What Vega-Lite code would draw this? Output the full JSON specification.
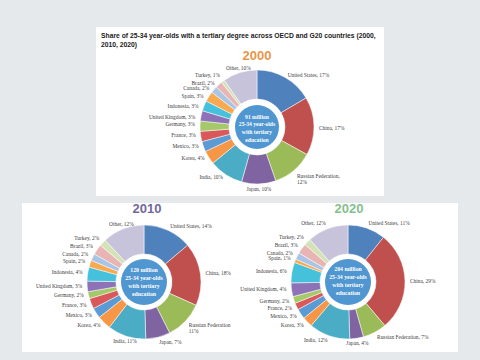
{
  "$schema": "https://vega.github.io/schema/vega-lite/v6.json",
  "background": "#e6e9ec",
  "padding": {"left": 22, "top": 27, "right": 22, "bottom": 8},
  "title": {"text": "2000", "anchor": "middle", "offset": -36, "dx": 17, "font": "Liberation Sans", "fontSize": 13, "fontWeight": "bold", "color": "#e8964a"},
  "datasets": {
    "d2000": [
      {"i": 1, "country": "United States", "value": 17, "label": "United States, 17%"},
      {"i": 2, "country": "China", "value": 17, "label": "China, 17%"},
      {"i": 3, "country": "Russian Federation", "value": 12, "label": "Russian Federation,\n12%"},
      {"i": 4, "country": "Japan", "value": 10, "label": "Japan, 10%"},
      {"i": 5, "country": "India", "value": 10, "label": "India, 10%"},
      {"i": 6, "country": "Korea", "value": 4, "label": "Korea, 4%"},
      {"i": 7, "country": "Mexico", "value": 3, "label": "Mexico, 3%"},
      {"i": 8, "country": "France", "value": 3, "label": "France, 3%"},
      {"i": 9, "country": "Germany", "value": 3, "label": "Germany, 3%"},
      {"i": 10, "country": "United Kingdom", "value": 3, "label": "United Kingdom, 3%"},
      {"i": 11, "country": "Indonesia", "value": 3, "label": "Indonesia, 3%"},
      {"i": 12, "country": "Spain", "value": 3, "label": "Spain, 3%"},
      {"i": 13, "country": "Canada", "value": 2, "label": "Canada, 2%"},
      {"i": 14, "country": "Brazil", "value": 2, "label": "Brazil, 2%"},
      {"i": 15, "country": "Turkey", "value": 1, "label": "Turkey, 1%"},
      {"i": 16, "country": "Other", "value": 10, "label": "Other, 10%"}
    ],
    "d2010": [
      {"i": 1, "country": "United States", "value": 14, "label": "United States, 14%"},
      {"i": 2, "country": "China", "value": 18, "label": "China, 18%"},
      {"i": 3, "country": "Russian Federation", "value": 11, "label": "Russian Federation\n11%"},
      {"i": 4, "country": "Japan", "value": 7, "label": "Japan, 7%"},
      {"i": 5, "country": "India", "value": 11, "label": "India, 11%"},
      {"i": 6, "country": "Korea", "value": 4, "label": "Korea, 4%"},
      {"i": 7, "country": "Mexico", "value": 3, "label": "Mexico, 3%"},
      {"i": 8, "country": "France", "value": 3, "label": "France, 3%"},
      {"i": 9, "country": "Germany", "value": 2, "label": "Germany, 2%"},
      {"i": 10, "country": "United Kingdom", "value": 3, "label": "United Kingdom, 3%"},
      {"i": 11, "country": "Indonesia", "value": 4, "label": "Indonesia, 4%"},
      {"i": 12, "country": "Spain", "value": 2, "label": "Spain, 2%"},
      {"i": 13, "country": "Canada", "value": 2, "label": "Canada, 2%"},
      {"i": 14, "country": "Brazil", "value": 3, "label": "Brazil, 3%"},
      {"i": 15, "country": "Turkey", "value": 2, "label": "Turkey, 2%"},
      {"i": 16, "country": "Other", "value": 12, "label": "Other, 12%"}
    ],
    "d2020": [
      {"i": 1, "country": "United States", "value": 11, "label": "United States, 11%"},
      {"i": 2, "country": "China", "value": 29, "label": "China, 29%"},
      {"i": 3, "country": "Russian Federation", "value": 7, "label": "Russian Federation, 7%"},
      {"i": 4, "country": "Japan", "value": 4, "label": "Japan, 4%"},
      {"i": 5, "country": "India", "value": 12, "label": "India, 12%"},
      {"i": 6, "country": "Korea", "value": 3, "label": "Korea, 3%"},
      {"i": 7, "country": "Mexico", "value": 3, "label": "Mexico, 3%"},
      {"i": 8, "country": "France", "value": 2, "label": "France, 2%"},
      {"i": 9, "country": "Germany", "value": 2, "label": "Germany, 2%"},
      {"i": 10, "country": "United Kingdom", "value": 4, "label": "United Kingdom, 4%"},
      {"i": 11, "country": "Indonesia", "value": 6, "label": "Indonesia, 6%"},
      {"i": 12, "country": "Spain", "value": 1, "label": "Spain, 1%"},
      {"i": 13, "country": "Canada", "value": 2, "label": "Canada, 2%"},
      {"i": 14, "country": "Brazil", "value": 3, "label": "Brazil, 3%"},
      {"i": 15, "country": "Turkey", "value": 2, "label": "Turkey, 2%"},
      {"i": 16, "country": "Other", "value": 12, "label": "Other, 12%"}
    ],
    "centre": [
      {"year": "2000", "text": "91 million\n25-34 year-olds\nwith tertiary\neducation"},
      {"year": "2010", "text": "120 million\n25-34 year-olds\nwith tertiary\neducation"},
      {"year": "2020", "text": "204 million\n25-34 year-olds\nwith tertiary\neducation"}
    ]
  },
  "vconcat": [
    {
      "width": 288,
      "height": 169,
      "view": {"fill": "white", "stroke": null},
      "title": {"text": ["Share of 25-34 year-olds with a tertiary degree across OECD and G20 countries (2000,", "2010, 2020)"], "anchor": "start", "frame": "group", "offset": -22, "dx": 5, "font": "Liberation Sans", "fontSize": 6.75, "fontWeight": "bold", "color": "#1a1a1a", "lineHeight": 9},
      "layer": [
        {
          "data": {"name": "d2000"},
          "mark": {"type": "arc", "radius": 57, "innerRadius": 28, "stroke": "white", "strokeWidth": 0.5, "xOffset": 17, "yOffset": 15.5},
          "encoding": {
            "theta": {"field": "value", "type": "quantitative", "stack": true},
            "order": {"field": "i", "type": "quantitative"},
            "color": {"field": "country", "type": "nominal", "legend": null,
              "scale": {"domain": ["United States", "China", "Russian Federation", "Japan", "India", "Korea", "Mexico", "France", "Germany", "United Kingdom", "Indonesia", "Spain", "Canada", "Brazil", "Turkey", "Other"],
                        "range": ["#4f81bd", "#c0504d", "#9bbb59", "#8064a2", "#4bacc6", "#f79646", "#5b9bd5", "#d9595a", "#a5c96a", "#8e72b8", "#46c1dc", "#f9a94e", "#a8c5e6", "#e8b4b4", "#d4e3b5", "#c7c3db"]}}
          }
        },
        {
          "data": {"name": "centre"},
          "transform": [{"filter": "datum.year == '2000'"}],
          "mark": {"type": "arc", "radius": 22, "theta": 0, "theta2": 6.2832, "fill": "#5096d0", "xOffset": 17, "yOffset": 15.5},
          "encoding": {}
        },
        {
          "data": {"name": "centre"},
          "transform": [{"filter": "datum.year == '2000'"}],
          "mark": {"type": "text", "align": "center", "baseline": "middle", "lineBreak": "\n", "lineHeight": 7.7, "font": "Liberation Serif", "fontSize": 5.6, "fontWeight": "bold", "color": "white", "xOffset": 17, "yOffset": 5},
          "encoding": {"text": {"field": "text", "type": "nominal"}}
        },
        {
          "data": {"name": "d2000"},
          "mark": {"type": "text", "radius": 62, "align": "left", "baseline": "middle", "lineBreak": "\n", "lineHeight": 6.5, "font": "Liberation Serif", "fontSize": 5.4, "color": "#404040", "xOffset": 17, "yOffset": 17},
          "encoding": {
            "theta": {"field": "value", "type": "quantitative", "stack": true},
            "order": {"field": "i", "type": "quantitative"},
            "detail": {"field": "country", "type": "nominal"},
            "text": {"condition": {"test": "indexof(['United States','China','Russian Federation'], datum.country) >= 0", "field": "label", "type": "nominal"}, "value": ""}
          }
        },
        {
          "data": {"name": "d2000"},
          "mark": {"type": "text", "radius": 62, "align": "right", "baseline": "middle", "lineBreak": "\n", "lineHeight": 6.5, "font": "Liberation Serif", "fontSize": 5.4, "color": "#404040", "xOffset": 17, "yOffset": 13.5},
          "encoding": {
            "theta": {"field": "value", "type": "quantitative", "stack": true},
            "order": {"field": "i", "type": "quantitative"},
            "detail": {"field": "country", "type": "nominal"},
            "text": {"condition": {"test": "indexof(['India','Korea','Mexico','France','Germany','Turkey'], datum.country) >= 0", "field": "label", "type": "nominal"}, "value": ""}
          }
        },
        {
          "data": {"name": "d2000"},
          "mark": {"type": "text", "radius": 62, "align": "right", "baseline": "middle", "lineBreak": "\n", "lineHeight": 6.5, "font": "Liberation Serif", "fontSize": 5.4, "color": "#404040", "xOffset": 16, "yOffset": 17.5},
          "encoding": {
            "theta": {"field": "value", "type": "quantitative", "stack": true},
            "order": {"field": "i", "type": "quantitative"},
            "detail": {"field": "country", "type": "nominal"},
            "text": {"condition": {"test": "indexof(['United Kingdom','Indonesia','Spain','Canada','Brazil'], datum.country) >= 0", "field": "label", "type": "nominal"}, "value": ""}
          }
        },
        {
          "data": {"name": "d2000"},
          "mark": {"type": "text", "radius": 62, "align": "center", "baseline": "middle", "lineBreak": "\n", "lineHeight": 6.5, "font": "Liberation Serif", "fontSize": 5.4, "color": "#404040", "xOffset": 17, "yOffset": 15.5},
          "encoding": {
            "theta": {"field": "value", "type": "quantitative", "stack": true},
            "order": {"field": "i", "type": "quantitative"},
            "detail": {"field": "country", "type": "nominal"},
            "text": {"condition": {"test": "indexof(['Japan','Other'], datum.country) >= 0", "field": "label", "type": "nominal"}, "value": ""}
          }
        }
      ]
    },
    {
      "hconcat": [
        {
          "width": 218,
          "height": 149,
          "view": {"fill": "white", "stroke": null},
          "title": {"text": "2010", "anchor": "middle", "frame": "group", "offset": -13, "dx": 16, "font": "Liberation Sans", "fontSize": 13, "fontWeight": "bold", "color": "#74679e"},
          "layer": [
            {
              "data": {"name": "d2010"},
              "mark": {"type": "arc", "radius": 57, "innerRadius": 28, "stroke": "white", "strokeWidth": 0.5, "xOffset": 13, "yOffset": 4.5},
              "encoding": {
                "theta": {"field": "value", "type": "quantitative", "stack": true},
                "order": {"field": "i", "type": "quantitative"},
                "color": {"field": "country", "type": "nominal", "legend": null,
                  "scale": {"domain": ["United States", "China", "Russian Federation", "Japan", "India", "Korea", "Mexico", "France", "Germany", "United Kingdom", "Indonesia", "Spain", "Canada", "Brazil", "Turkey", "Other"],
                            "range": ["#4f81bd", "#c0504d", "#9bbb59", "#8064a2", "#4bacc6", "#f79646", "#5b9bd5", "#d9595a", "#a5c96a", "#8e72b8", "#46c1dc", "#f9a94e", "#a8c5e6", "#e8b4b4", "#d4e3b5", "#c7c3db"]}}
              }
            },
            {
              "data": {"name": "centre"},
              "transform": [{"filter": "datum.year == '2010'"}],
              "mark": {"type": "arc", "radius": 23, "theta": 0, "theta2": 6.2832, "fill": "#5096d0", "xOffset": 13, "yOffset": 4.5},
              "encoding": {}
            },
            {
              "data": {"name": "centre"},
              "transform": [{"filter": "datum.year == '2010'"}],
              "mark": {"type": "text", "align": "center", "baseline": "middle", "lineBreak": "\n", "lineHeight": 8, "font": "Liberation Serif", "fontSize": 5.8, "fontWeight": "bold", "color": "white", "xOffset": 13, "yOffset": -7.5},
              "encoding": {"text": {"field": "text", "type": "nominal"}}
            },
            {
              "data": {"name": "d2010"},
              "mark": {"type": "text", "radius": 62, "align": "left", "baseline": "middle", "lineBreak": "\n", "lineHeight": 6.5, "font": "Liberation Serif", "fontSize": 5.4, "color": "#404040", "xOffset": 13, "yOffset": 4.5},
              "encoding": {
                "theta": {"field": "value", "type": "quantitative", "stack": true},
                "order": {"field": "i", "type": "quantitative"},
                "detail": {"field": "country", "type": "nominal"},
                "text": {"condition": {"test": "indexof(['United States','China','Russian Federation','Japan'], datum.country) >= 0", "field": "label", "type": "nominal"}, "value": ""}
              }
            },
            {
              "data": {"name": "d2010"},
              "mark": {"type": "text", "radius": 62, "align": "right", "baseline": "middle", "lineBreak": "\n", "lineHeight": 6.5, "font": "Liberation Serif", "fontSize": 5.4, "color": "#404040", "xOffset": 13, "yOffset": 3.5},
              "encoding": {
                "theta": {"field": "value", "type": "quantitative", "stack": true},
                "order": {"field": "i", "type": "quantitative"},
                "detail": {"field": "country", "type": "nominal"},
                "text": {"condition": {"test": "indexof(['Korea','Mexico','France','Germany','United Kingdom','Indonesia','Spain','Canada','Brazil','Turkey'], datum.country) >= 0", "field": "label", "type": "nominal"}, "value": ""}
              }
            },
            {
              "data": {"name": "d2010"},
              "mark": {"type": "text", "radius": 62, "align": "center", "baseline": "middle", "lineBreak": "\n", "lineHeight": 6.5, "font": "Liberation Serif", "fontSize": 5.4, "color": "#404040", "xOffset": 13, "yOffset": 4.5},
              "encoding": {
                "theta": {"field": "value", "type": "quantitative", "stack": true},
                "order": {"field": "i", "type": "quantitative"},
                "detail": {"field": "country", "type": "nominal"},
                "text": {"condition": {"test": "indexof(['India','Other'], datum.country) >= 0", "field": "label", "type": "nominal"}, "value": ""}
              }
            }
          ]
        },
        {
          "width": 218,
          "height": 149,
          "view": {"fill": "white", "stroke": null},
          "title": {"text": "2020", "anchor": "middle", "frame": "group", "offset": -13, "dx": 0, "font": "Liberation Sans", "fontSize": 13, "fontWeight": "bold", "color": "#86bf8e"},
          "layer": [
            {
              "data": {"name": "d2020"},
              "mark": {"type": "arc", "radius": 57, "innerRadius": 28, "stroke": "white", "strokeWidth": 0.5, "xOffset": -1, "yOffset": 4.5},
              "encoding": {
                "theta": {"field": "value", "type": "quantitative", "stack": true},
                "order": {"field": "i", "type": "quantitative"},
                "color": {"field": "country", "type": "nominal", "legend": null,
                  "scale": {"domain": ["United States", "China", "Russian Federation", "Japan", "India", "Korea", "Mexico", "France", "Germany", "United Kingdom", "Indonesia", "Spain", "Canada", "Brazil", "Turkey", "Other"],
                            "range": ["#4f81bd", "#c0504d", "#9bbb59", "#8064a2", "#4bacc6", "#f79646", "#5b9bd5", "#d9595a", "#a5c96a", "#8e72b8", "#46c1dc", "#f9a94e", "#a8c5e6", "#e8b4b4", "#d4e3b5", "#c7c3db"]}}
              }
            },
            {
              "data": {"name": "centre"},
              "transform": [{"filter": "datum.year == '2020'"}],
              "mark": {"type": "arc", "radius": 23, "theta": 0, "theta2": 6.2832, "fill": "#5096d0", "xOffset": -1, "yOffset": 4.5},
              "encoding": {}
            },
            {
              "data": {"name": "centre"},
              "transform": [{"filter": "datum.year == '2020'"}],
              "mark": {"type": "text", "align": "center", "baseline": "middle", "lineBreak": "\n", "lineHeight": 8, "font": "Liberation Serif", "fontSize": 5.8, "fontWeight": "bold", "color": "white", "xOffset": -1, "yOffset": -8.5},
              "encoding": {"text": {"field": "text", "type": "nominal"}}
            },
            {
              "data": {"name": "d2020"},
              "mark": {"type": "text", "radius": 62, "align": "left", "baseline": "middle", "lineBreak": "\n", "lineHeight": 6.5, "font": "Liberation Serif", "fontSize": 5.4, "color": "#404040", "xOffset": -1, "yOffset": 4.5},
              "encoding": {
                "theta": {"field": "value", "type": "quantitative", "stack": true},
                "order": {"field": "i", "type": "quantitative"},
                "detail": {"field": "country", "type": "nominal"},
                "text": {"condition": {"test": "indexof(['United States','China','Russian Federation'], datum.country) >= 0", "field": "label", "type": "nominal"}, "value": ""}
              }
            },
            {
              "data": {"name": "d2020"},
              "mark": {"type": "text", "radius": 62, "align": "right", "baseline": "middle", "lineBreak": "\n", "lineHeight": 6.5, "font": "Liberation Serif", "fontSize": 5.4, "color": "#404040", "xOffset": -1, "yOffset": 3.5},
              "encoding": {
                "theta": {"field": "value", "type": "quantitative", "stack": true},
                "order": {"field": "i", "type": "quantitative"},
                "detail": {"field": "country", "type": "nominal"},
                "text": {"condition": {"test": "indexof(['India','Korea','Mexico','France','Germany','United Kingdom','Indonesia','Spain','Canada','Brazil','Turkey','Other'], datum.country) >= 0", "field": "label", "type": "nominal"}, "value": ""}
              }
            },
            {
              "data": {"name": "d2020"},
              "mark": {"type": "text", "radius": 62, "align": "center", "baseline": "middle", "lineBreak": "\n", "lineHeight": 6.5, "font": "Liberation Serif", "fontSize": 5.4, "color": "#404040", "xOffset": -1, "yOffset": 4.5},
              "encoding": {
                "theta": {"field": "value", "type": "quantitative", "stack": true},
                "order": {"field": "i", "type": "quantitative"},
                "detail": {"field": "country", "type": "nominal"},
                "text": {"condition": {"test": "indexof(['Japan'], datum.country) >= 0", "field": "label", "type": "nominal"}, "value": ""}
              }
            }
          ]
        }
      ],
      "spacing": 0
    }
  ],
  "spacing": 7,
  "center": true,
  "config": {"view": {"stroke": null}}
}
